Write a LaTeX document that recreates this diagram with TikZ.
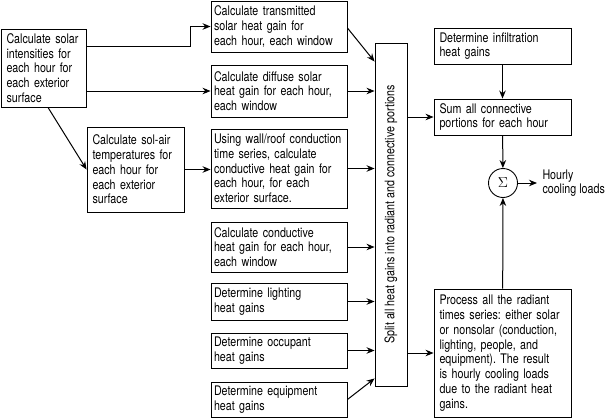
\documentclass[tikz,border=0pt]{standalone}
\usepackage{fontspec}
\setmainfont{TeX Gyre Heros}[FakeStretch=0.81]
\usepackage{tikz}
\usetikzlibrary{arrows.meta, positioning}
\frenchspacing
\hyphenpenalty=10000

\tikzset{
	box/.style={draw, line width=0.9pt, align=left, inner xsep=5.5pt, inner ysep=0pt,
		font=\fontsize{13.2}{14.75}\selectfont},
	gain/.style={box, inner xsep=3pt, text width=130pt},
	right box/.style={box, text width=126pt}
}

\begin{document}
\begin{tikzpicture}[x=1pt, y=-1pt,
			->,
			>={Stealth[length=8pt,width=6.5pt]},
			line width=1pt]

			\useasboundingbox (0,0) rectangle (607,418);

			\node[box, text width=74pt, minimum height=78pt] (sol) at (43.5,68) {Calculate solar\\intensities for\\each hour for\\each exterior\\surface};
			\node[box, text width=86pt, minimum height=85pt] (solair) at (135.5,169.5) {Calculate sol-air\\temperatures for\\each hour for\\each exterior\\surface};

			\node[gain, minimum height=51pt] (trans) at (279,26.5) {Calculate transmitted\\solar heat gain for\\each hour, each window};
			\node[gain, minimum height=52pt] (diff) at (279,91) {Calculate diffuse solar\\heat gain for each hour,\\each window};
			\node[gain, minimum height=79pt] (wall) at (279,168.5) {Using wall/roof conduction\\time series, calculate\\conductive heat gain for\\each hour, for each\\exterior surface.};
			\node[gain, minimum height=50pt] (cond) at (279,247) {Calculate conductive\\heat gain for each hour,\\each window};
			\node[gain, minimum height=37pt] (light) at (279,301.5) {Determine lighting\\heat gains};
			\node[gain, minimum height=35pt] (occ) at (279,350.5) {Determine occupant\\heat gains};
			\node[gain, minimum height=35pt] (equip) at (279,399.5) {Determine equipment\\heat gains};

			\node[box, rotate=90, align=center, minimum width=343pt, minimum height=32pt] (split) at (391,214.5) {Split all heat gains into radiant and connective portions};

			\node[right box, minimum height=36pt] (infil) at (502.5,46) {Determine infiltration\\heat gains};
			\node[right box, minimum height=36pt] (sum) at (502.5,117) {Sum all connective\\portions for each hour};
			\node[draw, circle, line width=0.9pt, minimum size=29pt, inner sep=0pt, font=\fontsize{15}{15}\selectfont] (sig) at (503,183) {$\Sigma$};
			\node[right box, minimum height=128pt] (proc) at (502.5,353) {Process all the radiant\\times series: either solar\\or nonsolar (conduction,\\lighting, people, and\\equipment). The result\\is hourly cooling loads\\due to the radiant heat\\gains.};
			\node[anchor=west, align=left, inner xsep=5pt, inner ysep=0pt, font=\fontsize{13.2}{14.75}\selectfont] (hour) at (537,183) {Hourly\\cooling loads};

			\coordinate (bend) at (190,46);
			\draw ([yshift=22pt]sol.east) -- (bend) |- (trans.west);
			\draw (sol.east |- diff.west) -- (diff.west);
			\draw ([xshift=4.5pt]sol.south) -- (solair.west);
			\draw (solair.east) -- (solair.east -| wall.west);

			\draw ([yshift=-1.5pt]trans.east) -- ([yshift=-19pt]split.north east);
			\foreach \g in {diff, wall, cond, light, occ}
				\draw (\g.east) -- (\g.east -| split.north);
			\draw (equip.east) -- ([yshift=8pt]split.north west);

			\draw (split.south |- sum.west) -- (sum.west);
			\draw (split.south |- proc.west) -- (proc.west);
			\draw (infil) -- (sum);
			\draw (sum) -- (sig);
			\draw (proc) -- (sig);
			\draw (sig) -- (hour.west);
		\end{tikzpicture}
\end{document}
